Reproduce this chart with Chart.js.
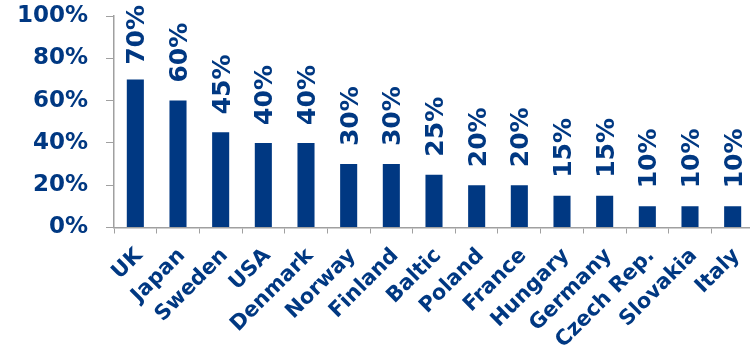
<!DOCTYPE html>
<html>
<head>
<meta charset="utf-8">
<script src="https://cdn.jsdelivr.net/npm/chart.js@4.4.1/dist/chart.umd.min.js"></script>
<style>
  html, body { margin: 0; padding: 0; overflow: hidden; background: #ffffff; width: 750px; height: 346px; }
  canvas { display: block; }
</style>
</head>
<body>
<canvas id="c" width="760" height="346"></canvas>
<script>
const categories = ['UK', 'Japan', 'Sweden', 'USA', 'Denmark', 'Norway', 'Finland', 'Baltic', 'Poland', 'France', 'Hungary', 'Germany', 'Czech Rep.', 'Slovakia', 'Italy'];
const values = [70, 60, 45, 40, 40, 30, 30, 25, 20, 20, 15, 15, 10, 10, 10];
const yTickValues = [0, 20, 40, 60, 80, 100];

const NAVY = '#003882';
const GREY = '#a0a0a0';
const FONT = "'DejaVu Sans', Verdana, sans-serif";

const barLabelPlugin = {
  id: 'barLabels',
  afterDatasetsDraw(chart) {
    const ctx = chart.ctx;
    const meta = chart.getDatasetMeta(0);
    const size = 25;
    ctx.save();
    ctx.font = 'bold ' + size + 'px ' + FONT;
    ctx.fillStyle = NAVY;
    ctx.textAlign = 'left';
    ctx.textBaseline = 'alphabetic';
    const capH = size * 0.729;
    meta.data.forEach((bar, i) => {
      const text = values[i] + '%';
      const w = ctx.measureText(text).width;
      let start = bar.y - 18;
      if (start - w < 5) start = 5 + w;
      ctx.save();
      ctx.translate(bar.x, start);
      ctx.rotate(-Math.PI / 2);
      ctx.fillText(text, 0, capH / 2);
      ctx.restore();
    });
    ctx.restore();
  }
};

new Chart(document.getElementById('c'), {
  type: 'bar',
  data: {
    labels: categories,
    datasets: [{
      data: values,
      backgroundColor: NAVY,
      borderWidth: 0,
      categoryPercentage: 1.0,
      barPercentage: 0.4
    }]
  },
  options: {
    responsive: false,
    animation: false,
    layout: { padding: { top: 16, right: 6, left: 0, bottom: 0 } },
    plugins: {
      legend: { display: false },
      tooltip: { enabled: false }
    },
    scales: {
      x: {
        offset: true,
        grid: {
          offset: true,
          drawOnChartArea: false,
          drawTicks: true,
          tickLength: 6,
          color: GREY
        },
        border: { display: true, color: GREY, width: 1.5 },
        ticks: {
          autoSkip: false,
          minRotation: 45,
          maxRotation: 45,
          padding: 10,
          labelOffset: 4,
          color: NAVY,
          font: { family: FONT, size: 21, weight: 'bold' }
        },
        afterFit(scale) { scale.height = 118.5; scale.paddingLeft = 0; scale.paddingRight = 0; }
      },
      y: {
        min: 0,
        max: 100,
        afterBuildTicks(scale) { scale.ticks = yTickValues.map(v => ({ value: v })); },
        grid: {
          drawOnChartArea: false,
          drawTicks: true,
          tickLength: 8,
          color: GREY
        },
        border: { display: true, color: GREY, width: 1.5 },
        ticks: {
          padding: 18,
          color: NAVY,
          font: { family: FONT, size: 23, weight: 'bold' },
          callback: (v) => v + '%'
        },
        afterFit(scale) { scale.width = 114; scale.paddingTop = 0; scale.paddingBottom = 0; }
      }
    }
  },
  plugins: [barLabelPlugin]
});
</script>
</body>
</html>
